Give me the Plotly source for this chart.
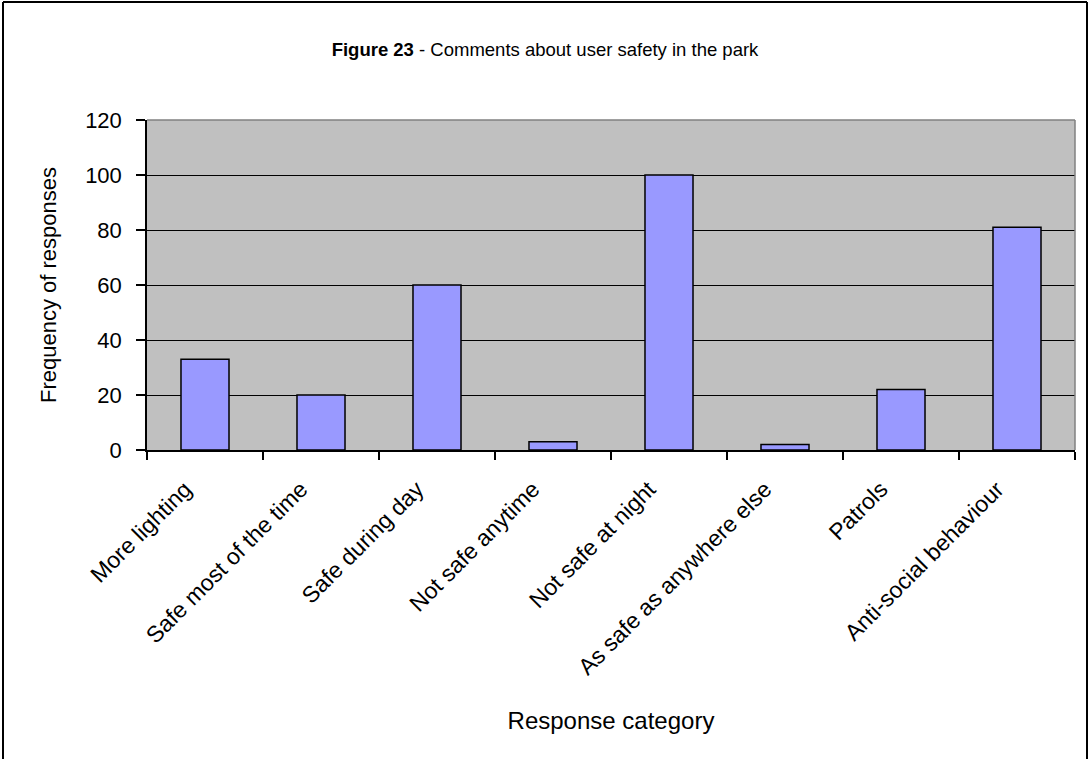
import plotly.graph_objects as go

categories = ["More lighting", "Safe most of the time", "Safe during day", "Not safe anytime",
              "Not safe at night", "As safe as anywhere else", "Patrols", "Anti-social behaviour"]
values = [33, 20, 60, 3, 100, 2, 22, 81]
y_ticks = [0, 20, 40, 60, 80, 100, 120]

FONT = "Liberation Sans, Arial, sans-serif"

fig = go.Figure(go.Bar(
    x=categories, y=values,
    marker=dict(color="#9999FF", line=dict(color="black", width=1.5)),
    hoverinfo="skip",
))

W, H = 1091, 759
L, R, T, B = 147, 16, 120, 309
pw, ph = W - L - R, H - T - B

def px_x(p):
    return (p - L) / pw

def px_y(p):
    return (H - B - p) / ph

fig.update_layout(
    width=W, height=H,
    margin=dict(l=L, r=R, t=T, b=B),
    paper_bgcolor="white",
    plot_bgcolor="#C0C0C0",
    bargap=0.586,
    showlegend=False,
    font=dict(family=FONT, color="black"),
    title=dict(
        text="<b>Figure 23</b> - Comments about user safety in the park",
        xref="container", x=545 / W, xanchor="center",
        yref="container", y=1 - 50 / H, yanchor="middle",
        font=dict(size=18.5, family=FONT, color="black"),
    ),
    xaxis=dict(
        tickangle=-45,
        tickfont=dict(size=23, family=FONT),
        ticks="outside", ticklen=8, tickwidth=1.5, tickcolor="black",
        tickson="boundaries",
        ticklabelshift=-20, ticklabelstandoff=15,
        showline=True, linecolor="black", linewidth=1.5,
        showgrid=False,
        title=dict(text="Response category", font=dict(size=24, family=FONT), standoff=33),
    ),
    yaxis=dict(
        range=[0, 120], tickvals=y_ticks,
        tickfont=dict(size=22, family=FONT),
        ticks="outside", ticklen=9, tickwidth=1.5, tickcolor="black",
        ticklabelstandoff=10,
        showline=True, linecolor="black", linewidth=1.5,
        showgrid=True, gridcolor="black", gridwidth=1.2,
        zeroline=False,
        title=dict(text="Frequency of responses", font=dict(size=22, family=FONT), standoff=22),
    ),
    shapes=[
        # top and right border of the plot area
        dict(type="line", xref="paper", yref="paper", x0=0, x1=1, y0=1, y1=1,
             line=dict(color="#808080", width=1.5)),
        dict(type="line", xref="paper", yref="paper", x0=1, x1=1, y0=0, y1=1,
             line=dict(color="#808080", width=1.5)),
        # outer chart frame
        dict(type="line", xref="paper", yref="paper", x0=px_x(3), x1=px_x(3), y0=px_y(2), y1=px_y(759),
             line=dict(color="black", width=2)),
        dict(type="line", xref="paper", yref="paper", x0=px_x(3), x1=px_x(1087), y0=px_y(2), y1=px_y(2),
             line=dict(color="black", width=2)),
        dict(type="line", xref="paper", yref="paper", x0=px_x(1087), x1=px_x(1087), y0=px_y(2), y1=px_y(759),
             line=dict(color="black", width=2)),
    ],
)

fig.write_html("out.html", config={"displayModeBar": False},
               post_script="document.body.style.margin='0';")
